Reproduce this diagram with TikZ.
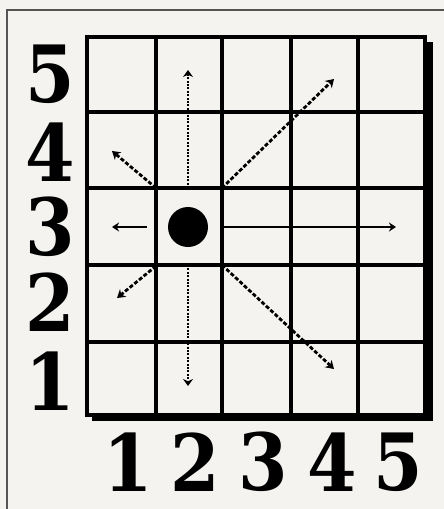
\documentclass[tikz,border=0pt]{standalone}
\usepackage{fontspec}
\setmainfont{DejaVu Serif}
\usetikzlibrary{arrows.meta}
\definecolor{paper}{HTML}{F4F3EF}
\definecolor{frame}{HTML}{555555}
\newcommand{\narrowdigit}[1]{\scalebox{0.9}[1]{#1}}
\tikzset{
  gridline/.style={line width=3.6pt, line cap=rect},
  shadowband/.style={fill=black},
  dotline/.style={line width=2.4pt, dash pattern=on 2pt off 1.4pt, -{Stealth[length=7pt,width=10pt]}},
  dashline/.style={line width=2.8pt, dash pattern=on 4pt off 2pt, -{Stealth[length=8pt,width=10pt]}},
  solidline/.style={line width=1.8pt, -{Stealth[length=7pt,width=9pt]}},
  digit/.style={inner sep=0pt, font=\fontsize{79}{79}\selectfont\bfseries},
}
\begin{document}
\begin{tikzpicture}[x=1pt,y=-1pt]
\fill[paper] (0,0) rectangle (444,509);
\useasboundingbox (0,0) rectangle (444,509);
% outer frame
\draw[frame, line width=1.2pt] (7,509) -- (7,10) -- (444,10);
% shadow
\fill[shadowband] (425,42) rectangle (433,421);
\fill[shadowband] (92,413) rectangle (433,421);
% grid
\foreach \x in {87,156,222,291,358,425} \draw[gridline] (\x,37) -- (\x,415);
\foreach \y in {37,112,188,265,342,415} \draw[gridline] (87,\y) -- (425,\y);
% counter
\node[circle, fill=black, minimum size=40pt, inner sep=0pt] (dot) at (188,227) {};
% start points and ends
\coordinate (sN) at (188,188);
\coordinate (eN) at (188,70);
\coordinate (sS) at (188,265);
\coordinate (eS) at (188,386);
\coordinate (sW) at (147,227);
\coordinate (eW) at (112,227);
\coordinate (sE) at (222,227);
\coordinate (eE) at (396,227);
\coordinate (sNE) at (222,188);
\coordinate (eNE) at (334,79);
\coordinate (sNW) at (156,188);
\coordinate (eNW) at (112,151);
\coordinate (sSW) at (156,266);
\coordinate (eSW) at (117,298);
\coordinate (sSE) at (222,265);
\coordinate (eSE) at (334,369);
\draw[dotline] (sN) -- (eN);
\draw[dotline] (sS) -- (eS);
\draw[solidline] (sW) -- (eW);
\draw[solidline] (sE) -- (eE);
\draw[dashline] (sNE) -- (eNE);
\draw[dashline] (sNW) -- (eNW);
\draw[dashline] (sSW) -- (eSW);
\draw[dashline] (sSE) -- (eSE);
% row labels
\node[digit] (r5) at (50,74) {\narrowdigit{5}};
\node[digit] (r4) at (50,152) {\narrowdigit{4}};
\node[digit] (r3) at (50,227) {\narrowdigit{3}};
\node[digit] (r2) at (50,302) {\narrowdigit{2}};
\node[digit] (r1) at (50,381) {\narrowdigit{1}};
% column labels
\node[digit] (c1) at (128,462) {\narrowdigit{1}};
\node[digit] (c2) at (195,462) {\narrowdigit{2}};
\node[digit] (c3) at (263,462) {\narrowdigit{3}};
\node[digit] (c4) at (332,462) {\narrowdigit{4}};
\node[digit] (c5) at (398,462) {\narrowdigit{5}};
\end{tikzpicture}
\end{document}
